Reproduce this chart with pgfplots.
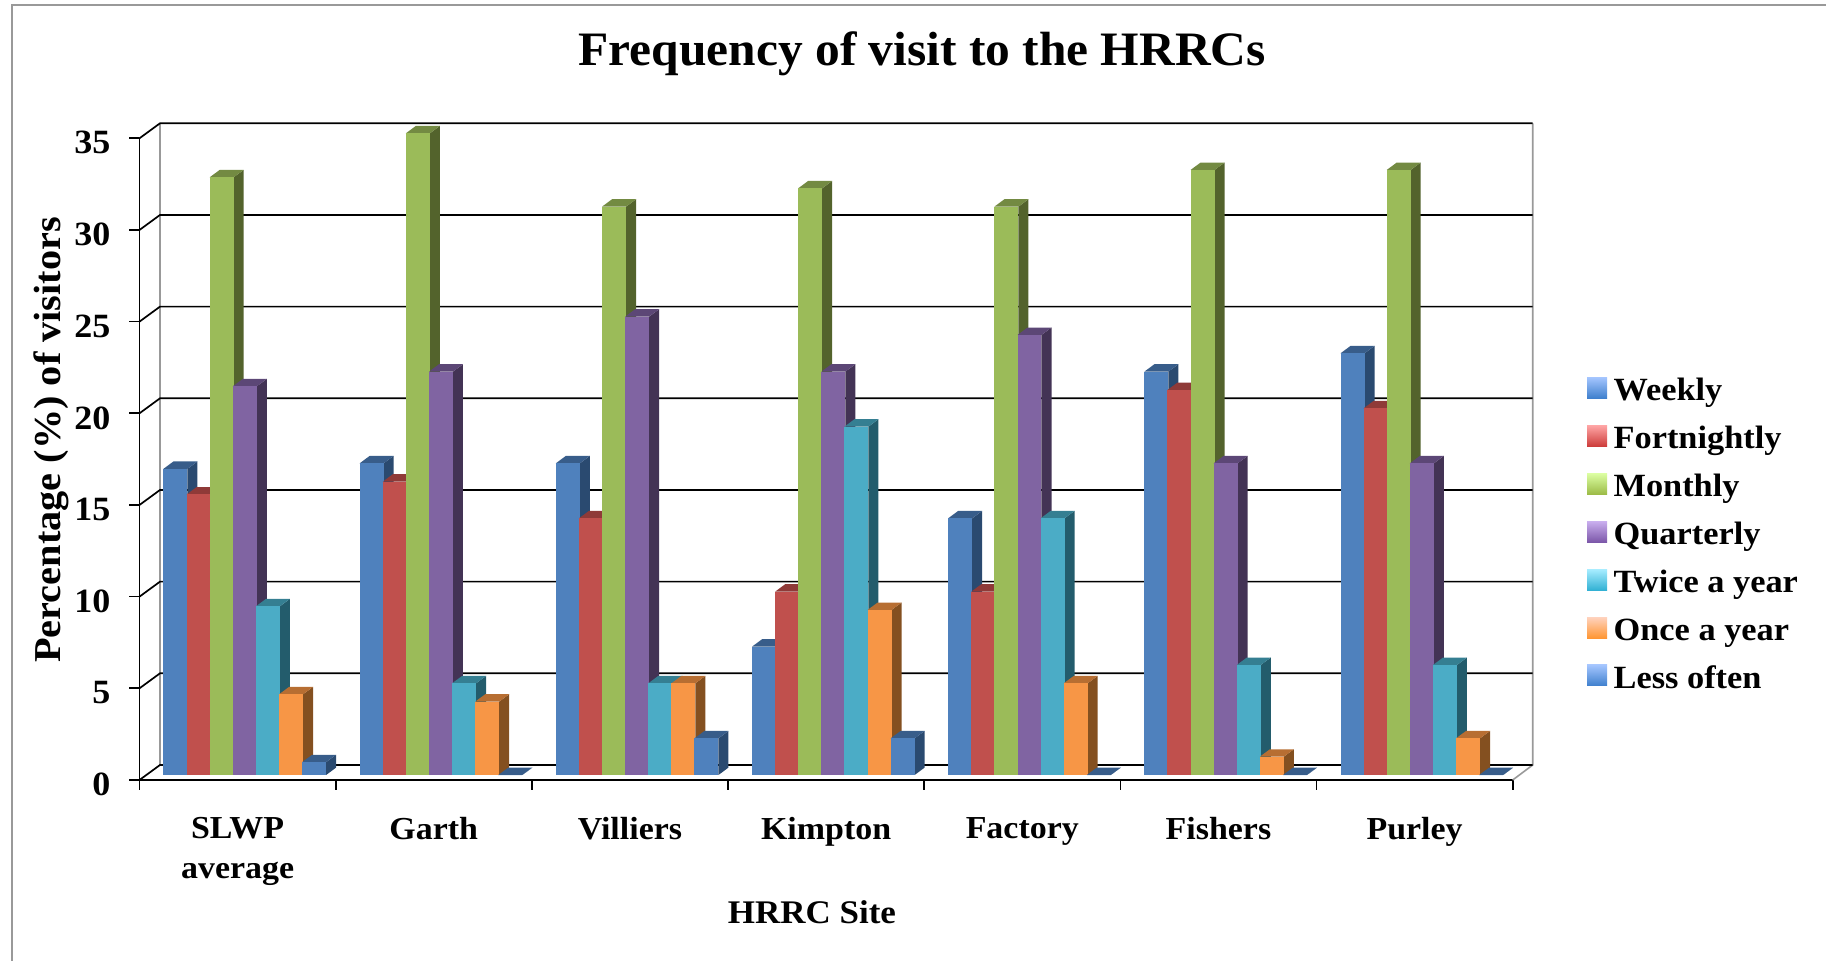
\documentclass[border=0pt]{standalone}
\usepackage{pgfplots}
\pgfplotsset{compat=1.18}
\usepackage{fontspec}
\setmainfont[FakeStretch=1.06]{Liberation Serif}
\newfontfamily\titlefont[FakeStretch=1.03]{Liberation Serif}

% shades of each bar: front, top, side
\definecolor{blueF}{HTML}{4F81BD}\definecolor{blueT}{HTML}{385D8A}\definecolor{blueS}{HTML}{2A4A70}
\definecolor{redF}{HTML}{C0504D}\definecolor{redT}{HTML}{8F3A38}\definecolor{redS}{HTML}{71302E}
\definecolor{greenF}{HTML}{9BBB59}\definecolor{greenT}{HTML}{738A42}\definecolor{greenS}{HTML}{53632C}
\definecolor{purpleF}{HTML}{8064A2}\definecolor{purpleT}{HTML}{5C4776}\definecolor{purpleS}{HTML}{433355}
\definecolor{tealF}{HTML}{4BACC6}\definecolor{tealT}{HTML}{357F92}\definecolor{tealS}{HTML}{235C6C}
\definecolor{orangeF}{HTML}{F79646}\definecolor{orangeT}{HTML}{B76E32}\definecolor{orangeS}{HTML}{845020}
\definecolor{frameGrey}{HTML}{999999}
% legend swatch gradients
\definecolor{blueL}{HTML}{A5C6FF}\definecolor{blueD}{HTML}{3F80CD}
\definecolor{redL}{HTML}{FFA6A6}\definecolor{redD}{HTML}{CD3D3B}
\definecolor{greenL}{HTML}{DCFFA3}\definecolor{greenD}{HTML}{9CBB47}
\definecolor{purpleL}{HTML}{C9AEEE}\definecolor{purpleD}{HTML}{7B56A8}
\definecolor{tealL}{HTML}{A6ECFF}\definecolor{tealD}{HTML}{30B0D3}
\definecolor{orangeL}{HTML}{FFD3BF}\definecolor{orangeD}{HTML}{FF9633}

% one bar with depth: category, position in the group, value, colour stem
\newcommand{\DepthBar}[4]{%
  \pgfmathsetmacro{\xa}{#1+0.1223+#2*0.1178}%
  \pgfmathsetmacro{\xb}{\xa+0.1223}%
  \pgfmathsetmacro{\xc}{\xb+0.0510}%
  \pgfmathsetmacro{\xd}{\xa+0.0510}%
  \pgfmathsetmacro{\yl}{0.2727}%
  \pgfmathsetmacro{\yt}{#3+0.2727}%
  \pgfmathsetmacro{\ylb}{\yl+0.4040}%
  \pgfmathsetmacro{\ytb}{\yt+0.4040}%
  \addplot[fill=#4S,draw=none,forget plot] coordinates {(\xb,\yl) (\xc,\ylb) (\xc,\ytb) (\xb,\yt)};
  \addplot[fill=#4T,draw=none,forget plot] coordinates {(\xa,\yt) (\xb,\yt) (\xc,\ytb) (\xd,\ytb)};
  \addplot[fill=#4F,draw=none,forget plot] coordinates {(\xa,\yl) (\xb,\yl) (\xb,\yt) (\xa,\yt)};
}
% the seven bars of one site
\newcommand{\SiteBars}[8]{%
  \DepthBar{#1}{0}{#2}{blue}\DepthBar{#1}{1}{#3}{red}\DepthBar{#1}{2}{#4}{green}%
  \DepthBar{#1}{3}{#5}{purple}\DepthBar{#1}{4}{#6}{teal}\DepthBar{#1}{5}{#7}{orange}%
  \DepthBar{#1}{6}{#8}{blue}%
}
% back wall rule and its slanted link to the front axis
\newcommand{\WallRule}[1]{%
  \pgfmathsetmacro{\yw}{#1+0.8183}%
  \addplot[black,line width=0.85pt,forget plot] coordinates {(0,#1) (0.1045,\yw) (7.102,\yw)};
}
% legend swatch with a vertical gradient
\newcommand{\SwatchEntry}[3]{%
  \addlegendimage{legend image code/.code={%
    \shade[draw=none,top color=#1,bottom color=#2] (0pt,-3.6pt) rectangle (10pt,6.9pt);
    \path[draw=none] (0pt,0pt) -- (11.3pt,0pt);}}
  \addlegendentry{#3}
}

\begin{document}
\begin{tikzpicture}
  \path[use as bounding box] (-69.75pt,-90.5pt) rectangle (843.25pt,390pt);
  \draw[frameGrey,line width=1.1pt] (-63.9pt,-90.5pt) -- (-63.9pt,387.35pt) -- (843.25pt,387.35pt);
  \begin{axis}[
    at={(0pt,0pt)}, anchor=origin,
    scale only axis, width=686.6pt, height=320.85pt,
    xmin=0, xmax=7, ymin=0, ymax=35,
    clip=false,
    axis lines=left,
    axis line style={-,black,line width=0.85pt},
    tick style={black,line width=0.85pt},
    tick align=outside,
    major tick length=5pt,
    xtick={0,1,2,3,4,5,6,7},
    ytick={0,5,10,15,20,25,30,35},
    x tick label as interval,
    xticklabels={{SLWP\\average},Garth,Villiers,Kimpton,Factory,Fishers,Purley},
    x tick label style={align=center,font=\fontsize{16}{20}\selectfont\bfseries,anchor=north,yshift=-10pt},
    y tick label style={font=\fontsize{17}{19}\selectfont\bfseries,xshift=-6pt,yshift=-2.3pt},
    /pgf/number format/assume math mode=true,
    title={Frequency of visit to the HRRCs},
    title style={at={(axis description cs:0.570,1.1135)},anchor=center,font=\fontsize{24}{28}\titlefont\bfseries},
    xlabel={HRRC Site},
    xlabel style={at={(axis description cs:0.4897,-0.2057)},anchor=center,font=\fontsize{16.5}{20}\selectfont\bfseries},
    ylabel={Percentage (\%) of visitors},
    ylabel style={at={(axis description cs:-0.0645,0.53)},anchor=center,rotate=0,font=\fontsize{19}{21}\selectfont\bfseries},
    legend cell align=left,
    legend style={at={(723.75pt,202.9pt)},anchor=north west,draw=none,fill=none,
      font=\fontsize{16.2}{18}\selectfont\bfseries,row sep=7.3pt,inner sep=0pt,outer sep=0pt},
  ]
    % back wall
    \addplot[frameGrey,line width=0.8pt,forget plot] coordinates {(0.1045,0.8183) (0.1045,35.8183)};
    \addplot[frameGrey,line width=0.8pt,forget plot] coordinates {(7,0) (7.102,0.8183) (7.102,35.8183)};
    \WallRule{0}\WallRule{5}\WallRule{10}\WallRule{15}
    \WallRule{20}\WallRule{25}\WallRule{30}\WallRule{35}

    % Weekly, Fortnightly, Monthly, Quarterly, Twice a year, Once a year, Less often
    \SiteBars{0}{16.7}{15.3}{32.6}{21.2}{9.2}{4.4}{0.7}
    \SiteBars{1}{17}{16}{35}{22}{5}{4}{0}
    \SiteBars{2}{17}{14}{31}{25}{5}{5}{2}
    \SiteBars{3}{7}{10}{32}{22}{19}{9}{2}
    \SiteBars{4}{14}{10}{31}{24}{14}{5}{0}
    \SiteBars{5}{22}{21}{33}{17}{6}{1}{0}
    \SiteBars{6}{23}{20}{33}{17}{6}{2}{0}

    \SwatchEntry{blueL}{blueD}{Weekly}
    \SwatchEntry{redL}{redD}{Fortnightly}
    \SwatchEntry{greenL}{greenD}{Monthly}
    \SwatchEntry{purpleL}{purpleD}{Quarterly}
    \SwatchEntry{tealL}{tealD}{Twice a year}
    \SwatchEntry{orangeL}{orangeD}{Once a year}
    \SwatchEntry{blueL}{blueD}{Less often}
  \end{axis}
\end{tikzpicture}
\end{document}
